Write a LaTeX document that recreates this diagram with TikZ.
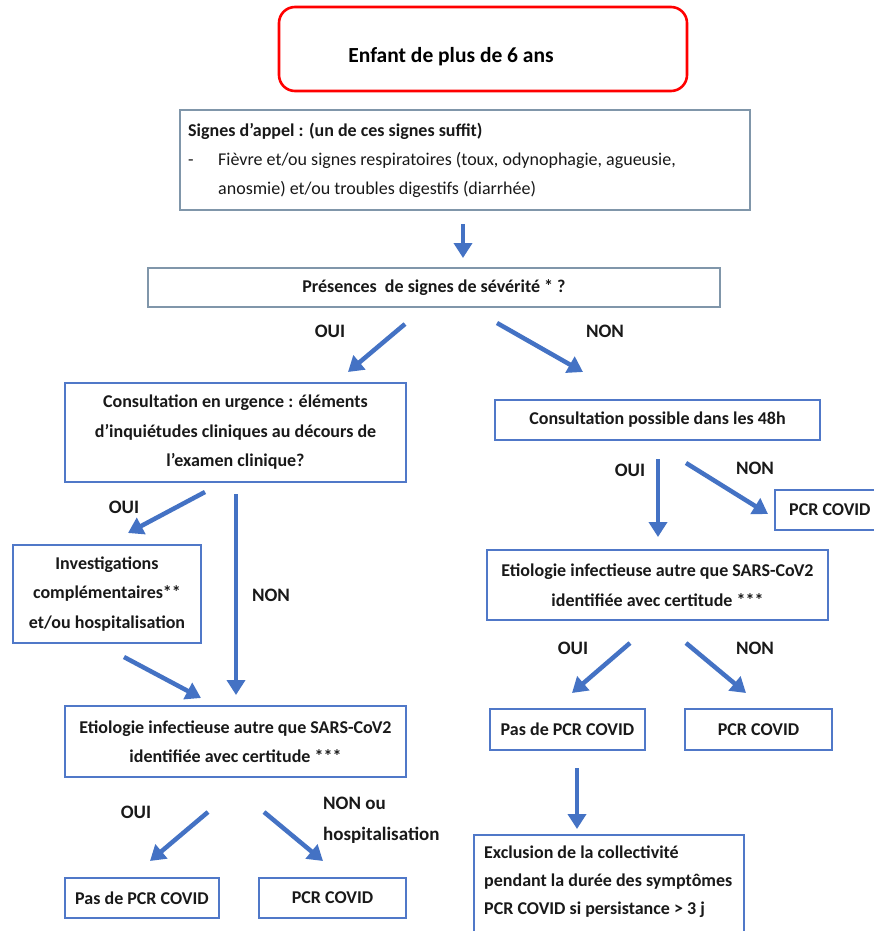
\documentclass[tikz,border=0pt]{standalone}
\usepackage{fontspec}
\setmainfont{Carlito}
\usetikzlibrary{arrows.meta}
\definecolor{arrblue}{RGB}{68,114,196}
\definecolor{boxblue}{RGB}{80,120,200}
\definecolor{graybl}{RGB}{128,150,170}
\definecolor{redc}{RGB}{255,0,0}
\tikzset{
  x=1pt, y=-1pt,
  txt/.style={font=\fontsize{18}{29.5}\selectfont\bfseries, align=center, inner sep=0pt, text=black!90},
  bbox/.style={txt, draw=boxblue, line width=1.2pt, fill=white},
  gbox/.style={txt, draw=graybl, line width=1.4pt, fill=white},
  lbl/.style={font=\fontsize{19}{30}\selectfont\bfseries, inner sep=0pt, text=black!90},
  arr/.style={draw=arrblue, line width=4.5pt, -{Triangle[length=15pt,width=18pt]}},
}
\begin{document}
\begin{tikzpicture}
\useasboundingbox (0,0) rectangle (874,931);
\clip (0,0) rectangle (874,931);
\fill[white] (0,0) rectangle (874,931);

% top red box
\node[draw=redc, line width=2.6pt, rounded corners=16pt, minimum width=408pt, minimum height=84pt, inner sep=0pt] (start) at (483,49) {};
\node[font=\fontsize{21.5}{26}\selectfont\bfseries, inner sep=0pt] (startt) at (451,57) {Enfant de plus de 6 ans};

% signes d'appel
\node[gbox, minimum width=570pt, minimum height=100pt] (signes) at (465,160) {};
\node[anchor=west, inner sep=0pt, align=left, font=\fontsize{18}{29}\selectfont, text=black!90] (signest) at (188,160)
 {{\bfseries Signes d’appel : (un de ces signes suffit)}\\
  \makebox[30pt][l]{-}Fièvre et/ou signes respiratoires (toux, odynophagie, agueusie,\\
  \hspace*{30pt}anosmie) et/ou troubles digestifs (diarrhée)};

% presence
\node[gbox, minimum width=572pt, minimum height=39pt] (pres) at (434,287.5) {Présences\ \ de signes de sévérité * ?};

% left branch
\node[bbox, minimum width=341pt, minimum height=99pt] (urg) at (235.5,432.5)
 {Consultation en urgence : éléments\\d’inquiétudes cliniques au décours de\\l’examen clinique?};
\node[bbox, minimum width=188pt, minimum height=98pt] (inv) at (107,594)
 {Investigations\\complémentaires**\\et/ou hospitalisation};
\node[bbox, minimum width=341pt, minimum height=71pt] (eti1) at (235.5,741.5)
 {Etiologie infectieuse autre que SARS-CoV2\\identifiée avec certitude ***};
\node[bbox, minimum width=154pt, minimum height=40pt] (pas1) at (142,898) {Pas de PCR COVID};
\node[bbox, minimum width=147pt, minimum height=40pt] (pcr2) at (332.5,898) {PCR COVID};

% right branch
\node[bbox, minimum width=325pt, minimum height=40pt] (poss) at (657.5,420) {Consultation possible dans les 48h};
\node[bbox, minimum width=105pt, minimum height=40pt] (pcr1) at (827.5,510) {};
\node[txt, anchor=west] (pcr1t) at (789,510) {PCR COVID};
\node[bbox, minimum width=341pt, minimum height=70pt] (eti2) at (657.5,585)
 {Etiologie infectieuse autre que SARS-CoV2\\identifiée avec certitude ***};
\node[bbox, minimum width=155pt, minimum height=41pt] (pas2) at (567.5,729.5) {Pas de PCR COVID};
\node[bbox, minimum width=147pt, minimum height=41pt] (pcr3) at (758.5,729.5) {PCR COVID};
\node[bbox, minimum width=270pt, minimum height=110pt] (excl) at (609,890) {};
\node[txt, anchor=north west, align=left, font=\fontsize{18}{28}\selectfont\bfseries] (exclt) at (484,846)
 {Exclusion de la collectivité\\pendant la durée des symptômes\\PCR COVID si persistance > 3 j};

% labels
\node[lbl] (oui1) at (330,331) {OUI};
\node[lbl] (non1) at (605,331) {NON};
\node[lbl] (oui2) at (124,507) {OUI};
\node[lbl] (non2) at (271,595) {NON};
\node[lbl] (oui3) at (136,812) {OUI};
\node[lbl, anchor=west, align=left, font=\fontsize{19}{31}\selectfont\bfseries] (non3) at (323,820) {NON ou\\hospitalisation};
\node[lbl] (oui4) at (630,470) {OUI};
\node[lbl] (non4) at (755,468) {NON};
\node[lbl] (oui5) at (573,648) {OUI};
\node[lbl] (non5) at (755,648) {NON};

% arrow coordinates
\coordinate (a1s) at (463,224);  \coordinate (a1e) at (463,258);
\coordinate (a2s) at (405,324);  \coordinate (a2e) at (348,372);
\coordinate (a3s) at (497,323);  \coordinate (a3e) at (583,372);
\coordinate (a4s) at (205,492);  \coordinate (a4e) at (128,533);
\coordinate (a5s) at (236,494);  \coordinate (a5e) at (236,695);
\coordinate (a6s) at (658,459);  \coordinate (a6e) at (658,537);
\coordinate (a7s) at (686,463);  \coordinate (a7e) at (768,514);
\coordinate (a8s) at (124,657);  \coordinate (a8e) at (201,698);
\coordinate (a9s) at (630,643);  \coordinate (a9e) at (572,693);
\coordinate (a10s) at (686,643); \coordinate (a10e) at (746,693);
\coordinate (a11s) at (208,812); \coordinate (a11e) at (150,861);
\coordinate (a12s) at (264,812); \coordinate (a12e) at (323,861);
\coordinate (a13s) at (577,768); \coordinate (a13e) at (577,829);

\draw[arr] (a1s) -- (a1e);
\draw[arr] (a2s) -- (a2e);
\draw[arr] (a3s) -- (a3e);
\draw[arr] (a4s) -- (a4e);
\draw[arr] (a5s) -- (a5e);
\draw[arr] (a6s) -- (a6e);
\draw[arr] (a7s) -- (a7e);
\draw[arr] (a8s) -- (a8e);
\draw[arr] (a9s) -- (a9e);
\draw[arr] (a10s) -- (a10e);
\draw[arr] (a11s) -- (a11e);
\draw[arr] (a12s) -- (a12e);
\draw[arr] (a13s) -- (a13e);
\end{tikzpicture}
\end{document}
